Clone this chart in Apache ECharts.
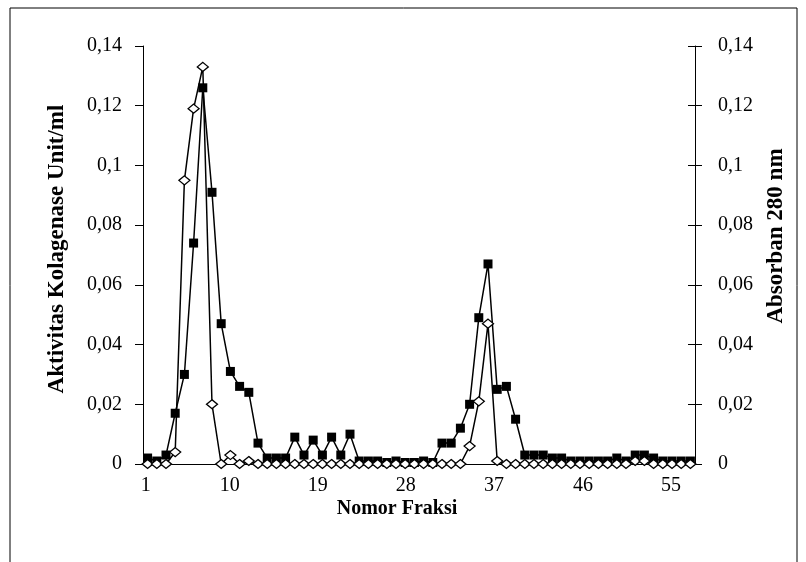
<!DOCTYPE html>
<html lang="id">
<head>
    <meta charset="UTF-8">
    <title>Aktivitas Kolagenase</title>
    <style>
        html, body { margin: 0; padding: 0; background: #fff; }
        #chart { width: 806px; height: 562px; }
    </style>
</head>
<body>
    <div id="chart"></div>
    <script src="https://cdn.jsdelivr.net/npm/echarts@6/dist/echarts.min.js"></script>
    <script>
    // nomor fraksi 1..60
    var fraksi = [
        '1','2','3','4','5','6','7','8','9','10',
        '11','12','13','14','15','16','17','18','19','20',
        '21','22','23','24','25','26','27','28','29','30',
        '31','32','33','34','35','36','37','38','39','40',
        '41','42','43','44','45','46','47','48','49','50',
        '51','52','53','54','55','56','57','58','59','60'
    ];
    // kotak hitam
    var aktivitas = [
        0.002, 0.001, 0.003, 0.017, 0.030, 0.074, 0.126, 0.091, 0.047, 0.031,
        0.026, 0.024, 0.007, 0.002, 0.002, 0.002, 0.009, 0.003, 0.008, 0.003,
        0.009, 0.003, 0.010, 0.001, 0.001, 0.001, 0.0005, 0.001, 0.0005, 0.0005,
        0.001, 0.0005, 0.007, 0.007, 0.012, 0.020, 0.049, 0.067, 0.025, 0.026,
        0.015, 0.003, 0.003, 0.003, 0.002, 0.002, 0.001, 0.001, 0.001, 0.001,
        0.001, 0.002, 0.001, 0.003, 0.003, 0.002, 0.001, 0.001, 0.001, 0.001
    ];
    // belah ketupat putih
    var absorban = [
        0, 0, 0, 0.004, 0.095, 0.119, 0.133, 0.020, 0, 0.003,
        0, 0.001, 0, 0, 0, 0, 0, 0, 0, 0,
        0, 0, 0, 0, 0, 0, 0, 0, 0, 0,
        0, 0, 0, 0, 0, 0.006, 0.021, 0.047, 0.001, 0,
        0, 0, 0, 0, 0, 0, 0, 0, 0, 0,
        0, 0, 0, 0.001, 0.001, 0, 0, 0, 0, 0
    ];
    var xLabels = ['1', '10', '19', '28', '37', '46', '55'];

    var font = 'Liberation Serif, Times New Roman, serif';
    // where the reference prints its x labels (in axis units, 0.5..60.5)
    var labelAt = [0.8, 9.93, 19.5, 29.07, 38.64, 48.32, 57.89];

    function koma(v) {
        return String(+v.toFixed(2)).replace('.', ',');
    }

    var chart = echarts.init(document.getElementById('chart'));
    var option = {
        backgroundColor: '#fff',
        animation: false,
        textStyle: { fontFamily: font, color: '#000' },
        grid: { left: 143, right: 111, top: 46, bottom: 98 },
        graphic: [{
            type: 'rect',
            shape: { x: 10, y: 8, width: 787, height: 620 },
            style: { fill: 'none', stroke: '#000', lineWidth: 1 }
        }],
        xAxis: [{
            type: 'category',
            data: fraksi,
            boundaryGap: true,
            axisLine: { lineStyle: { color: '#000', width: 1 } },
            axisTick: { interval: 9, length: 6, lineStyle: { color: '#000' } },
            axisLabel: { show: false },
            name: 'Nomor Fraksi',
            nameLocation: 'middle',
            nameGap: 35,
            nameTextStyle: {
                fontFamily: font, fontSize: 20, fontWeight: 'bold', color: '#000',
                padding: [0, 44, 0, 0]
            }
        }, {
            type: 'value',
            position: 'bottom',
            min: 0.5,
            max: 60.5,
            axisLine: { show: false },
            axisTick: { show: false },
            splitLine: { show: false },
            axisLabel: {
                customValues: labelAt,
                margin: 12,
                fontFamily: font,
                fontSize: 20,
                color: '#000',
                formatter: function (v) {
                    var i = labelAt.indexOf(v);
                    return i >= 0 ? xLabels[i] : '';
                }
            }
        }],
        yAxis: [{
            type: 'value',
            position: 'left',
            min: 0,
            max: 0.14,
            interval: 0.02,
            axisLine: { show: true, lineStyle: { color: '#000' } },
            axisTick: { show: true, length: 8, lineStyle: { color: '#000' } },
            splitLine: { show: false },
            axisLabel: { margin: 21, fontFamily: font, fontSize: 20, color: '#000', formatter: koma },
            name: 'Aktivitas Kolagenase Unit/ml',
            nameLocation: 'middle',
            nameRotate: 90,
            nameGap: 74,
            nameTextStyle: {
                fontFamily: font, fontSize: 23, fontWeight: 'bold', color: '#000',
                padding: [0, 0, 0, 12]
            }
        }, {
            type: 'value',
            position: 'right',
            min: 0,
            max: 0.14,
            interval: 0.02,
            axisLine: { show: true, lineStyle: { color: '#000' } },
            axisTick: { show: true, length: 7, lineStyle: { color: '#000' } },
            splitLine: { show: false },
            axisLabel: { margin: 23, fontFamily: font, fontSize: 20, color: '#000', formatter: koma },
            name: 'Absorban 280 nm',
            nameLocation: 'middle',
            nameRotate: 90,
            nameGap: 70,
            nameTextStyle: {
                fontFamily: font, fontSize: 23, fontWeight: 'bold', color: '#000',
                padding: [0, 0, 0, 38]
            }
        }, {
            // inner half of the crossing ticks on the right axis
            type: 'value',
            position: 'right',
            min: 0,
            max: 0.14,
            interval: 0.02,
            axisLine: { show: false },
            axisTick: { show: true, inside: true, length: 7, lineStyle: { color: '#000' } },
            splitLine: { show: false },
            axisLabel: { show: false }
        }],
        series: [{
            name: 'Aktivitas Kolagenase',
            type: 'line',
            xAxisIndex: 0,
            yAxisIndex: 0,
            data: aktivitas,
            symbol: 'rect',
            symbolSize: 9,
            showAllSymbol: true,
            lineStyle: { color: '#000', width: 1.5 },
            itemStyle: { color: '#000', borderColor: '#000', borderWidth: 0 }
        }, {
            name: 'Absorban 280 nm',
            type: 'line',
            xAxisIndex: 0,
            yAxisIndex: 1,
            data: absorban,
            symbol: 'diamond',
            symbolSize: [11, 9],
            showAllSymbol: true,
            lineStyle: { color: '#000', width: 1.5 },
            itemStyle: { color: '#fff', borderColor: '#000', borderWidth: 1.3 }
        }]
    };
    chart.setOption(option);
    </script>
</body>
</html>
